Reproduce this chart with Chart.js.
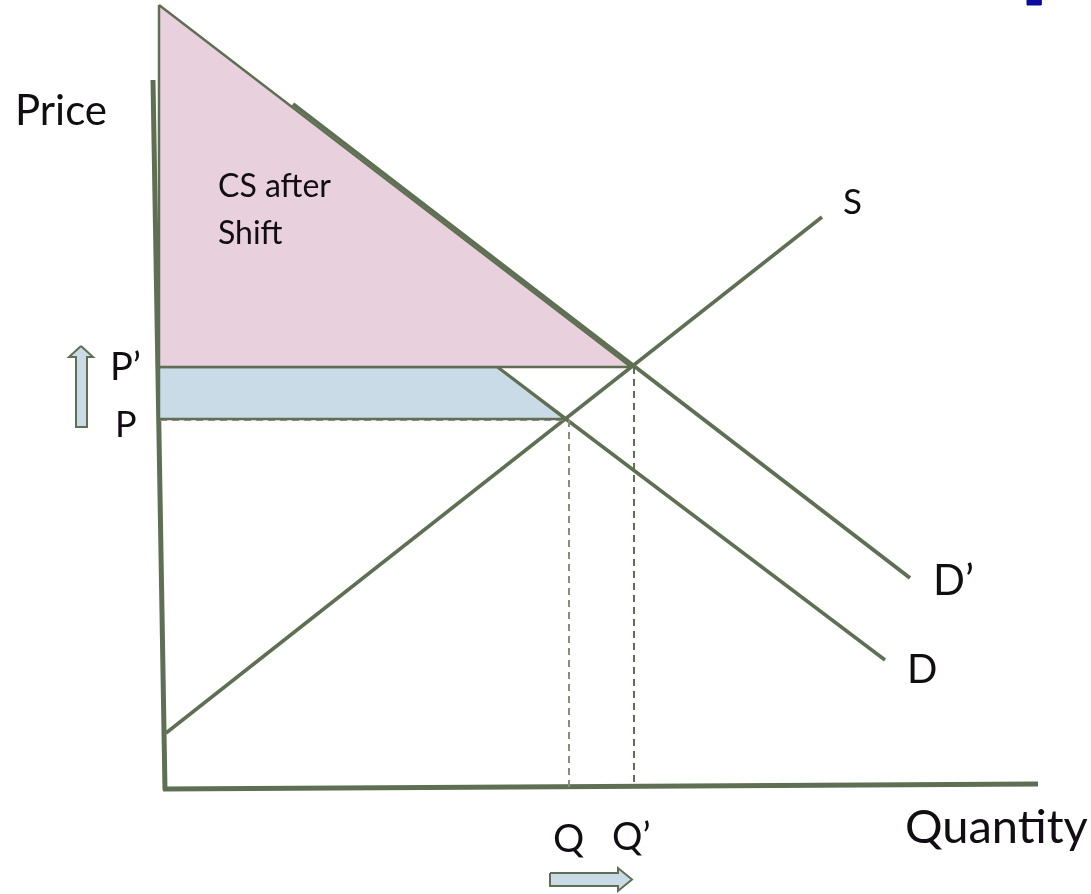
<!DOCTYPE html>
<html>
<head>
<meta charset="utf-8">
<script src="https://cdn.jsdelivr.net/npm/chart.js@4"></script>
<style>
  html, body { margin: 0; padding: 0; background: #fff; }
  #wrap { width: 1091px; height: 894px; position: relative; }
</style>
</head>
<body>
<div id="wrap"><canvas id="myChart"></canvas></div>
<script>
// quantity / price points (origin = axis corner)
const yAxisLine = [[-1.0, 70.7], [0.2, -0.3]];
const xAxisLine = [[0, -0.2], [87.5, 0.3]];
const supplyS = [[0.3, 5.4], [65.9, 57.0]];
const demandD = [[33.4, 42.0], [72.2, 12.7]];
const demandD2 = [[13.0, 68.3], [74.7, 20.9]];
const csAfterShift = [[-0.4, 78.2], [46.8, 42.0], [-0.4, 42.0], [-0.4, 78.2]];
const csGain = [[-0.4, 42.0], [33.4, 42.0], [40.2, 36.8], [-0.4, 36.8], [-0.4, 42.0]];
const priceP = 36.7, priceP2 = 42.0;
const qtyQ = 40.6, qtyQ2 = 47.1;
const upArrow = [[-8.2, 44.1], [-7.0, 43.0], [-7.6, 43.0], [-7.6, 36.0], [-8.7, 36.0], [-8.7, 43.0], [-9.4, 43.0], [-8.2, 44.1]];
const rightArrow = [[38.7, -8.6], [45.5, -8.6], [45.5, -8.1], [46.9, -9.25], [45.5, -10.4], [45.5, -9.9], [38.7, -9.9], [38.7, -8.6]];
const cornerMark = [[86.4, 79.5], [87.8, 79.5], [87.8, 78.2], [86.4, 78.2], [86.4, 79.5]];

const labelTexts = ['Price', 'CS after', 'Shift', 'S', 'P’', 'P', 'D’', 'D', 'Q', 'Q’', 'Quantity'];
const labelX = [-14.8, 5.5, 5.5, 68.0, -5.3, -4.8, 77.0, 74.4, 39.0, 44.9, 74.2];
const labelY = [66.2, 59.0, 54.3, 57.3, 40.7, 35.0, 19.2, 10.4, -6.5, -6.3, -5.6];
const labelSize = [42, 32, 32, 35, 38, 36, 42, 40, 39, 38, 47];

const GREEN = '#5f6f53';
const pts = arr => arr.map(p => ({ x: p[0], y: p[1] }));

function line(data, color, width, dash) {
  return {
    data: pts(data), showLine: true, borderColor: color, borderWidth: width,
    borderDash: dash || [], pointRadius: 0, fill: false, tension: 0
  };
}
function shape(data, fillColor, edge, width) {
  return {
    data: pts(data), showLine: true, borderColor: edge, borderWidth: width,
    backgroundColor: fillColor, pointRadius: 0, fill: 'shape', tension: 0
  };
}

const labelPlugin = {
  id: 'labels',
  afterDatasetsDraw(chart) {
    const c = chart.ctx;
    const xs = chart.scales.x, ys = chart.scales.y;
    c.save();
    c.fillStyle = '#110d12';
    c.textBaseline = 'alphabetic';
    labelTexts.forEach((t, i) => {
      c.font = labelSize[i] + 'px Lato';
      c.fillText(t, xs.getPixelForValue(labelX[i]), ys.getPixelForValue(labelY[i]));
    });
    c.restore();
  }
};

const ctx = document.getElementById('myChart');
new Chart(ctx, {
  type: 'scatter',
  data: {
    datasets: [
      shape(csAfterShift, '#e8d0dc', GREEN, 2.5),
      shape(csGain, '#c9dbe6', GREEN, 2.5),
      line([[-0.3, priceP], [qtyQ - 0.4, priceP]], '#999999', 2, [7, 5]),
      line([[33.4, priceP2], [46.8, priceP2]], GREEN, 2, [7, 5]),
      line([[qtyQ, priceP], [qtyQ, 0]], '#878d7d', 2, [7, 5]),
      line([[qtyQ2, priceP2], [qtyQ2, 0]], GREEN, 2, [7, 5]),
      line(demandD, GREEN, 3.5),
      line(demandD2, GREEN, 4),
      line(supplyS, GREEN, 3.5),
      line(yAxisLine, GREEN, 5),
      line(xAxisLine, GREEN, 5),
      shape(upArrow, '#c9dbe6', GREEN, 2),
      shape(rightArrow, '#c9dbe6', GREEN, 2),
      shape(cornerMark, '#0c0c9c', '#0c0c9c', 1)
    ]
  },
  options: {
    responsive: true,
    maintainAspectRatio: false,
    animation: false,
    layout: { padding: 0 },
    plugins: { legend: { display: false }, tooltip: { enabled: false } },
    scales: {
      x: { type: 'linear', min: -16.3, max: 92.8, display: false },
      y: { type: 'linear', min: -10.7, max: 78.7, display: false }
    }
  },
  plugins: [labelPlugin]
});
</script>
</body>
</html>
